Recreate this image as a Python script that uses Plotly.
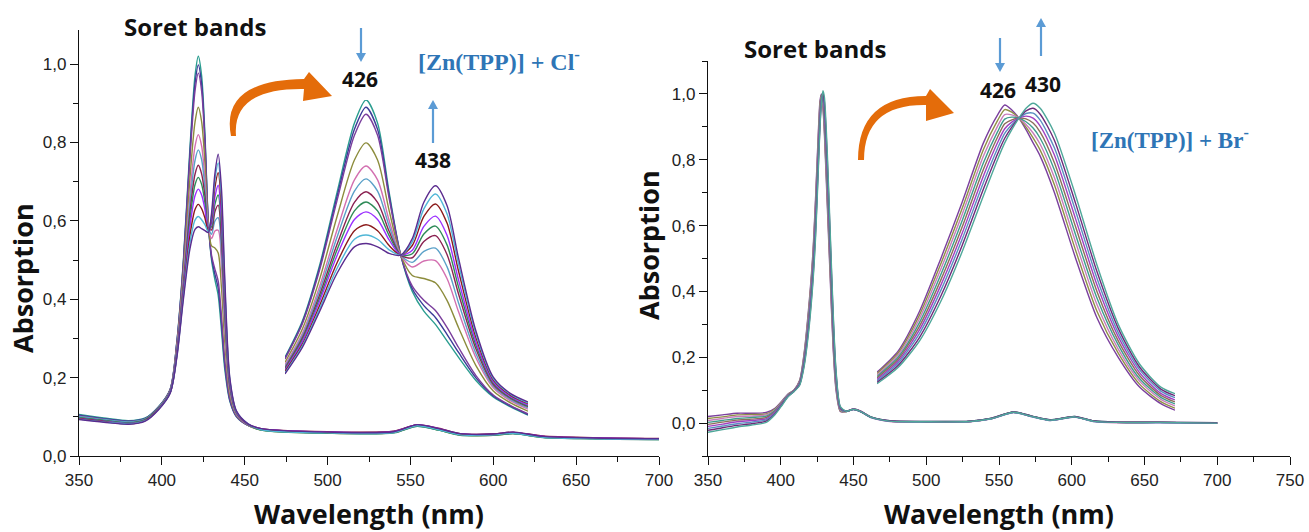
import plotly.graph_objects as go

W, H = 1309, 532

# ---------------- data: left panel, [Zn(TPP)] + Cl- ----------------
L_WL = [350, 365, 380, 390, 398, 405, 409, 413, 417, 420, 422, 424, 426, 428, 430, 432, 434, 436,
        438, 441, 445, 452, 460, 500, 540, 554, 567, 580, 600, 612, 630, 660, 700]
L_ABS = [
    [0.106, 0.097, 0.090, 0.097, 0.126, 0.17, 0.29, 0.50, 0.79, 0.97, 1.02, 0.97, 0.82, 0.60, 0.50, 0.45, 0.41, 0.32, 0.22, 0.14, 0.10, 0.078, 0.068, 0.060, 0.062, 0.078, 0.067, 0.055, 0.054, 0.058, 0.049, 0.045, 0.043],
    [0.104, 0.095, 0.089, 0.096, 0.125, 0.17, 0.288, 0.495, 0.777, 0.95, 0.998, 0.95, 0.808, 0.599, 0.506, 0.464, 0.428, 0.338, 0.232, 0.143, 0.101, 0.078, 0.067, 0.059, 0.061, 0.077, 0.068, 0.054, 0.055, 0.059, 0.049, 0.045, 0.043],
    [0.102, 0.094, 0.088, 0.095, 0.124, 0.169, 0.286, 0.49, 0.764, 0.931, 0.977, 0.931, 0.796, 0.597, 0.512, 0.477, 0.446, 0.356, 0.243, 0.146, 0.102, 0.078, 0.069, 0.061, 0.063, 0.079, 0.069, 0.056, 0.055, 0.058, 0.050, 0.046, 0.044],
    [0.100, 0.092, 0.086, 0.094, 0.123, 0.167, 0.278, 0.47, 0.712, 0.852, 0.89, 0.853, 0.747, 0.591, 0.536, 0.531, 0.518, 0.428, 0.289, 0.158, 0.105, 0.079, 0.066, 0.058, 0.060, 0.077, 0.066, 0.054, 0.053, 0.057, 0.048, 0.044, 0.042],
    [0.099, 0.091, 0.085, 0.093, 0.122, 0.165, 0.272, 0.454, 0.67, 0.79, 0.82, 0.791, 0.707, 0.586, 0.555, 0.574, 0.576, 0.486, 0.326, 0.168, 0.107, 0.08, 0.068, 0.060, 0.061, 0.078, 0.070, 0.056, 0.056, 0.060, 0.050, 0.046, 0.044],
    [0.101, 0.093, 0.087, 0.094, 0.123, 0.165, 0.268, 0.445, 0.647, 0.754, 0.781, 0.756, 0.685, 0.584, 0.566, 0.599, 0.608, 0.518, 0.347, 0.173, 0.108, 0.08, 0.067, 0.059, 0.060, 0.076, 0.067, 0.055, 0.054, 0.057, 0.048, 0.045, 0.043],
    [0.097, 0.090, 0.084, 0.092, 0.121, 0.164, 0.264, 0.436, 0.624, 0.719, 0.742, 0.72, 0.663, 0.581, 0.577, 0.623, 0.64, 0.55, 0.367, 0.178, 0.11, 0.081, 0.070, 0.062, 0.063, 0.080, 0.071, 0.057, 0.056, 0.061, 0.051, 0.047, 0.045],
    [0.098, 0.091, 0.085, 0.093, 0.121, 0.163, 0.262, 0.429, 0.605, 0.692, 0.711, 0.693, 0.646, 0.579, 0.585, 0.642, 0.666, 0.576, 0.383, 0.183, 0.111, 0.081, 0.066, 0.058, 0.059, 0.076, 0.066, 0.053, 0.053, 0.057, 0.047, 0.044, 0.042],
    [0.096, 0.089, 0.083, 0.091, 0.120, 0.162, 0.259, 0.422, 0.587, 0.664, 0.681, 0.666, 0.629, 0.577, 0.594, 0.661, 0.691, 0.601, 0.399, 0.187, 0.112, 0.081, 0.069, 0.061, 0.062, 0.079, 0.070, 0.056, 0.055, 0.060, 0.050, 0.046, 0.044],
    [0.095, 0.088, 0.082, 0.091, 0.120, 0.161, 0.255, 0.413, 0.564, 0.629, 0.642, 0.631, 0.607, 0.574, 0.604, 0.685, 0.723, 0.633, 0.42, 0.192, 0.113, 0.081, 0.068, 0.060, 0.061, 0.078, 0.069, 0.055, 0.055, 0.059, 0.049, 0.045, 0.043],
    [0.094, 0.087, 0.082, 0.090, 0.119, 0.161, 0.252, 0.406, 0.546, 0.602, 0.611, 0.603, 0.59, 0.572, 0.613, 0.704, 0.748, 0.658, 0.436, 0.196, 0.114, 0.082, 0.067, 0.059, 0.060, 0.077, 0.067, 0.054, 0.054, 0.058, 0.048, 0.044, 0.042],
    [0.093, 0.086, 0.081, 0.089, 0.118, 0.16, 0.25, 0.40, 0.53, 0.578, 0.585, 0.58, 0.575, 0.57, 0.62, 0.72, 0.77, 0.68, 0.45, 0.20, 0.115, 0.082, 0.070, 0.061, 0.062, 0.080, 0.070, 0.057, 0.056, 0.061, 0.050, 0.046, 0.044],
]

# left inset (Soret region, enlarged)
LI_WL = [412, 415, 418, 421, 424, 426, 428, 430, 432, 434, 436, 438, 440, 442, 445, 448, 451, 454]
LI_ABS = [
    [0.22, 0.33, 0.50, 0.72, 0.93, 1.00, 0.93, 0.72, 0.53, 0.42, 0.36, 0.32, 0.27, 0.22, 0.15, 0.10, 0.07, 0.045],
    [0.218, 0.326, 0.493, 0.708, 0.911, 0.978, 0.911, 0.711, 0.53, 0.428, 0.377, 0.341, 0.29, 0.235, 0.158, 0.103, 0.072, 0.047],
    [0.215, 0.322, 0.486, 0.696, 0.893, 0.957, 0.893, 0.702, 0.53, 0.436, 0.393, 0.362, 0.311, 0.25, 0.165, 0.106, 0.074, 0.049],
    [0.205, 0.306, 0.458, 0.647, 0.818, 0.87, 0.818, 0.665, 0.53, 0.468, 0.459, 0.446, 0.393, 0.31, 0.195, 0.118, 0.082, 0.057],
    [0.197, 0.293, 0.436, 0.607, 0.758, 0.80, 0.758, 0.635, 0.53, 0.494, 0.512, 0.513, 0.459, 0.358, 0.219, 0.128, 0.088, 0.063],
    [0.192, 0.286, 0.423, 0.585, 0.724, 0.761, 0.724, 0.618, 0.53, 0.508, 0.541, 0.551, 0.495, 0.385, 0.232, 0.133, 0.092, 0.067],
    [0.188, 0.279, 0.41, 0.563, 0.69, 0.722, 0.69, 0.602, 0.53, 0.522, 0.571, 0.589, 0.532, 0.412, 0.246, 0.138, 0.096, 0.071],
    [0.184, 0.273, 0.40, 0.546, 0.664, 0.691, 0.664, 0.589, 0.53, 0.534, 0.594, 0.618, 0.561, 0.433, 0.257, 0.143, 0.098, 0.073],
    [0.181, 0.268, 0.391, 0.529, 0.638, 0.661, 0.638, 0.576, 0.53, 0.545, 0.617, 0.648, 0.59, 0.454, 0.267, 0.147, 0.101, 0.076],
    [0.177, 0.26, 0.378, 0.507, 0.604, 0.622, 0.604, 0.559, 0.53, 0.559, 0.647, 0.685, 0.627, 0.481, 0.28, 0.152, 0.105, 0.08],
    [0.173, 0.255, 0.368, 0.49, 0.578, 0.591, 0.578, 0.546, 0.53, 0.57, 0.67, 0.715, 0.655, 0.502, 0.291, 0.156, 0.108, 0.082],
    [0.17, 0.25, 0.36, 0.475, 0.555, 0.565, 0.555, 0.535, 0.53, 0.58, 0.69, 0.74, 0.68, 0.52, 0.30, 0.16, 0.11, 0.085],
]
L_COLORS = ['#2a9d8f', '#3b3b98', '#7a3e9d', '#8c8c3c', '#d36fb0', '#5aa0c8',
            '#8b2252', '#2e8b57', '#9b30ff', '#8b1a1a', '#4fb6d6', '#5b2c8f']

# ---------------- data: right panel, [Zn(TPP)] + Br- ----------------
R_WL = [350, 360, 370, 380, 390, 396, 401, 405, 409, 413, 416, 419, 422, 424, 426, 427, 428, 429, 430,
        432, 434, 436, 438, 441, 445, 450, 455, 462, 475, 500, 530, 545, 560, 572, 585, 602, 615, 630, 660, 700]
R_ABS = [
    [.020, .025, .030, .030, .032, .045, .068, .088, .100, .130, .210, .340, .510, .690, .900, .980, 1.000, .960, .880, .660, .440, .230, .100, .035, .035,
     .042, .035, .018, .006, .004, .005, .014, .033, .021, .009, .019, .006, .002, .002, .000],
    [.014, .019, .025, .026, .028, .043, .066, .087, .099, .128, .205, .331, .499, .675, .886, .970, .997, .966, .894, .680, .458, .244, .108, .037, .035,
     .043, .036, .018, .006, .004, .005, .014, .034, .021, .009, .019, .006, .002, .002, .000],
    [.008, .014, .020, .021, .025, .040, .065, .086, .099, .126, .200, .323, .488, .660, .873, .960, .994, .973, .908, .700, .475, .258, .115, .039, .035,
     .041, .034, .017, .005, .003, .004, .013, .032, .020, .008, .018, .005, .001, .001, -.001],
    [.002, .008, .014, .017, .021, .038, .063, .085, .098, .124, .195, .314, .476, .645, .859, .950, .991, .979, .921, .720, .493, .271, .123, .041, .035,
     .042, .035, .019, .007, .005, .006, .015, .034, .022, .010, .020, .007, .003, .002, .001],
    [-.004, .003, .009, .012, .017, .035, .062, .084, .098, .123, .190, .305, .465, .630, .845, .940, .988, .985, .935, .740, .510, .285, .130, .043, .036,
     .042, .035, .018, .006, .004, .005, .014, .033, .021, .009, .019, .006, .002, .002, .000],
    [-.010, -.003, .004, .008, .013, .033, .060, .083, .097, .121, .185, .296, .454, .615, .831, .930, .984, .991, .949, .760, .528, .299, .138, .044, .036,
     .043, .036, .018, .006, .004, .005, .014, .033, .021, .009, .019, .006, .002, .002, .000],
    [-.016, -.009, -.002, .003, .010, .030, .058, .082, .096, .119, .180, .288, .443, .600, .818, .920, .981, .998, .963, .780, .545, .313, .145, .046, .036,
     .041, .034, .017, .006, .004, .005, .013, .032, .020, .008, .018, .005, .002, .001, .000],
    [-.022, -.014, -.007, -.002, .006, .028, .057, .081, .096, .117, .175, .279, .431, .585, .804, .910, .978, 1.004, .976, .800, .563, .326, .153, .048, .036,
     .042, .035, .018, .007, .005, .006, .015, .034, .022, .010, .020, .007, .003, .003, .001],
    [-.028, -.020, -.012, -.006, .002, .025, .055, .080, .095, .115, .170, .270, .420, .570, .790, .900, .975, 1.010, .990, .820, .580, .340, .160, .050, .036,
     .042, .035, .018, .006, .004, .005, .014, .033, .021, .009, .019, .006, .002, .002, .000],
]

RI_WL = [408, 411, 414, 417, 420, 423, 425, 426, 427, 428, 429, 430, 431, 433, 436, 439, 442, 445, 448, 450]
RI_ABS = [
    [.175, .24, .36, .52, .69, .87, .955, .985, .97, .945, .91, .87, .83, .72, .52, .34, .22, .13, .08, .06],
    [.171, .234, .349, .504, .671, .85, .938, .971, .963, .945, .918, .885, .848, .743, .544, .36, .233, .139, .086, .066],
    [.166, .228, .338, .488, .653, .83, .921, .956, .955, .945, .926, .90, .866, .765, .568, .38, .245, .148, .093, .073],
    [.162, .221, .326, .471, .634, .81, .904, .942, .948, .945, .934, .915, .884, .788, .591, .40, .258, .156, .099, .079],
    [.158, .215, .315, .455, .615, .79, .888, .928, .94, .945, .943, .93, .903, .81, .615, .42, .27, .165, .105, .085],
    [.153, .209, .304, .439, .596, .77, .871, .913, .933, .945, .951, .945, .921, .833, .639, .44, .283, .174, .111, .091],
    [.149, .203, .293, .423, .578, .75, .854, .899, .925, .945, .959, .96, .939, .855, .663, .46, .295, .183, .118, .098],
    [.144, .196, .281, .406, .559, .73, .837, .884, .918, .945, .967, .975, .957, .878, .686, .48, .308, .191, .124, .104],
    [.14, .19, .27, .39, .54, .71, .82, .87, .91, .945, .975, .99, .975, .90, .71, .50, .32, .20, .13, .11],
]
R_COLORS = ['#7b3f9e', '#8f8f45', '#c77dbb', '#3d9c8c', '#8c6d5a', '#a040c0', '#5a8fc0', '#6e2a7a', '#4fa89a']

X_TICKS_L = [350, 400, 450, 500, 550, 600, 650, 700]
X_TICKS_R = [350, 400, 450, 500, 550, 600, 650, 700, 750]
Y_TICKS = [0.0, 0.2, 0.4, 0.6, 0.8, 1.0]
X_TITLE = '<b>Wavelength (nm)</b>'
Y_TITLE = '<b>Absorption</b>'

# ---------------- figure ----------------
def px(x):
    return x / W


def py(y):
    return 1 - y / H


fig = go.Figure()
LW = 1.4
for i, ys in enumerate(L_ABS):
    fig.add_trace(go.Scatter(x=L_WL, y=ys, mode='lines', xaxis='x', yaxis='y',
                             line=dict(color=L_COLORS[i], width=LW, shape='spline', smoothing=0.8)))
for i, ys in enumerate(LI_ABS):
    fig.add_trace(go.Scatter(x=LI_WL, y=ys, mode='lines', xaxis='x3', yaxis='y3',
                             line=dict(color=L_COLORS[i], width=LW, shape='spline', smoothing=0.8)))
for i, ys in enumerate(R_ABS):
    fig.add_trace(go.Scatter(x=R_WL, y=ys, mode='lines', xaxis='x2', yaxis='y2',
                             line=dict(color=R_COLORS[i], width=LW, shape='spline', smoothing=0.7)))
for i, ys in enumerate(RI_ABS):
    fig.add_trace(go.Scatter(x=RI_WL, y=ys, mode='lines', xaxis='x4', yaxis='y4',
                             line=dict(color=R_COLORS[i], width=LW, shape='spline', smoothing=0.7)))

tickfont = dict(family='Liberation Sans, Arial', size=17, color='#222')
BOLD = 'Open Sans, Lato, sans-serif'
titlefont = dict(family=BOLD, size=27, color='#111')


def axis(domain, rng, tickvals, minor_dtick, anchor, title=None, fmt=None):
    d = dict(domain=domain, range=rng, tickvals=tickvals, anchor=anchor,
             showline=True, linecolor='#111', linewidth=1.3, ticks='outside', ticklen=8,
             tickwidth=1.3, tickcolor='#111', showgrid=False, zeroline=False, tickfont=tickfont,
             minor=dict(dtick=minor_dtick, tick0=0 if fmt else 350, ticks='outside', ticklen=5,
                        tickwidth=1.2, tickcolor='#111', showgrid=False))
    if title:
        d['title'] = dict(text=title, font=titlefont, standoff=19)
    if fmt:
        d['tickformat'] = fmt
    return d


def bare_axis(domain, rng, anchor):
    return dict(domain=domain, range=rng, anchor=anchor, showline=False, showticklabels=False,
                ticks='', showgrid=False, zeroline=False, fixedrange=True)


y_bottom = 1 - 456 / H
fig.update_layout(
    width=W, height=H, margin=dict(l=0, r=0, t=0, b=0, autoexpand=False),
    paper_bgcolor='white', plot_bgcolor='rgba(0,0,0,0)', showlegend=False, separators=',.',
    xaxis=axis([79 / W, 659 / W], [350, 700], X_TICKS_L, 25, 'y', X_TITLE),
    yaxis=axis([y_bottom, 1 - 30 / H], [0, 1.087], Y_TICKS, 0.1, 'x', fmt='.1f'),
    xaxis2=axis([708 / W, 1290 / W], [350, 750], X_TICKS_R, 25, 'y2', X_TITLE),
    yaxis2=axis([y_bottom, 1 - 61 / H], [-0.1, 1.1], Y_TICKS, 0.1, 'x2', fmt='.1f'),
    xaxis3=bare_axis([285 / W, 528 / W], [412, 454], 'y3'),
    yaxis3=bare_axis([1 - 430 / H, 1 - 100 / H], [0, 1], 'x3'),
    xaxis4=bare_axis([877 / W, 1175 / W], [408, 450], 'y4'),
    yaxis4=bare_axis([1 - 430 / H, 1 - 100 / H], [0, 1], 'x4'),
)

SERIF = 'Liberation Serif, Times New Roman, serif'
BLUE = '#2e75b6'
ann = []


def label(text, x, y, size, family=BOLD, color='#111', angle=0):
    ann.append(dict(text=text, x=px(x), y=py(y), xref='paper', yref='paper', showarrow=False,
                    xanchor='center', yanchor='middle', textangle=angle,
                    font=dict(family=family, size=size, color=color)))


label('<b>Soret bands</b>', 195, 27, 24)
label('<b>Soret bands</b>', 815, 48, 24)
label('<b>426</b>', 360, 79, 21)
label('<b>438</b>', 433, 160, 21)
label('<b>426</b>', 998, 90, 21)
label('<b>430</b>', 1043, 84, 21)
label('<b>[Zn(TPP)] + Cl<sup>-</sup></b>', 499, 60, 24, SERIF, BLUE)
label('<b>[Zn(TPP)] + Br<sup>-</sup></b>', 1170, 139, 23, SERIF, BLUE)
label(Y_TITLE, 22, 278, 27, angle=-90)
label(Y_TITLE, 648, 245, 27, angle=-90)

fig.update_layout(annotations=ann)


def path(cmds):
    out = []
    for c in cmds:
        if isinstance(c, str):
            out.append(c)
        else:
            out.append(f'{px(c[0]):.5f},{py(c[1]):.5f}')
    return ' '.join(out)


ORANGE = '#e46c0a'
ARROW_BLUE = '#5b9bd5'
shapes = []
left_curl = path(['M', (231, 136), 'Q', (220, 80), (304, 79), 'L', (309, 72), 'L', (332, 96),
                  'L', (303, 101), 'L', (304, 89), 'Q', (232, 88), (236, 136), 'Z'])
right_curl = path(['M', (858, 160), 'Q', (858, 96), (926, 96), 'L', (930, 89), 'L', (954, 113),
                   'L', (926, 121), 'L', (926, 105), 'Q', (864, 104), (864, 160), 'Z'])
for p in (left_curl, right_curl):
    shapes.append(dict(type='path', path=p, xref='paper', yref='paper', fillcolor=ORANGE, line=dict(width=0)))


def blue_arrow(x, tail, tip):
    s = 1 if tip > tail else -1
    base = tip - s * 9
    shapes.append(dict(type='line', xref='paper', yref='paper', x0=px(x), x1=px(x), y0=py(tail), y1=py(base),
                       line=dict(color=ARROW_BLUE, width=2.2)))
    head = path(['M', (x - 5, base), 'L', (x + 5, base), 'L', (x, tip), 'Z'])
    shapes.append(dict(type='path', path=head, xref='paper', yref='paper', fillcolor=ARROW_BLUE,
                       line=dict(width=0)))


blue_arrow(361, 28, 62)
blue_arrow(433, 143, 100)
blue_arrow(1000, 38, 72)
blue_arrow(1041, 56, 18)

fig.update_layout(shapes=shapes)

fig.write_html('out.html')
